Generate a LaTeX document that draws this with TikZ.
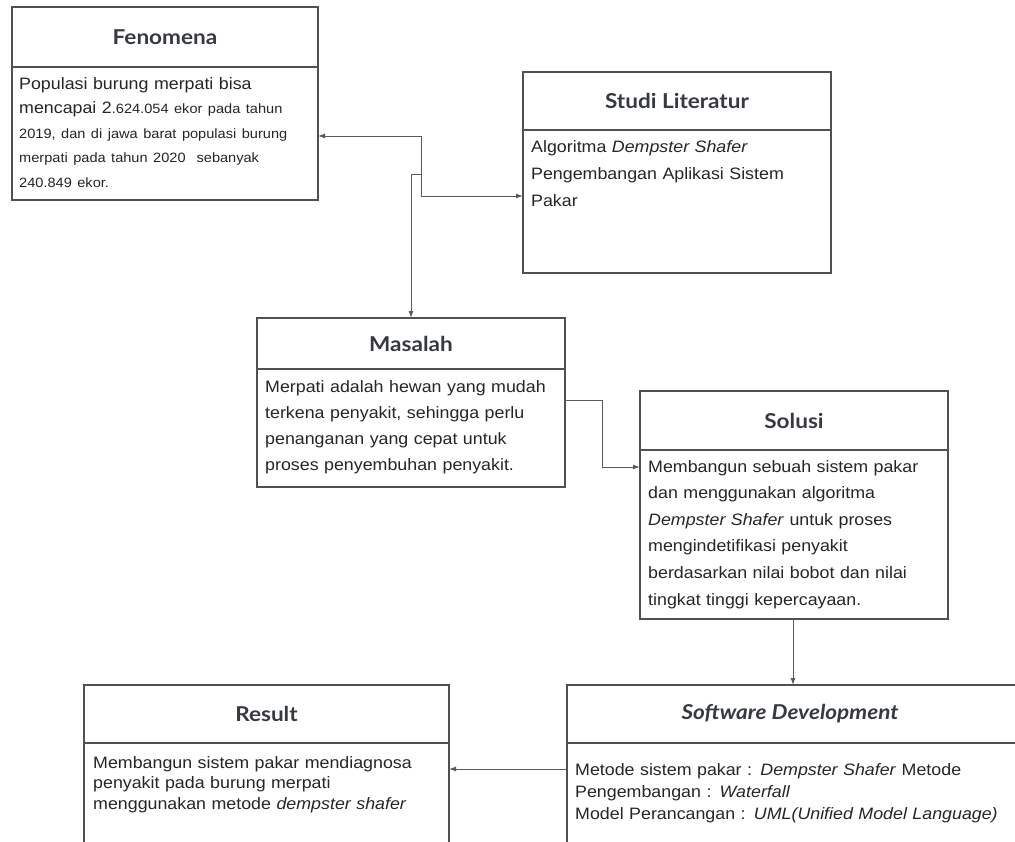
\documentclass[tikz,border=0pt]{standalone}
\usepackage{fontspec}
\setmainfont{Liberation Sans}[FakeStretch=1.08]
\newfontfamily\titlefont{Lato}[FakeStretch=1.1]
\usetikzlibrary{arrows.meta,calc}
\definecolor{boxline}{HTML}{505050}
\definecolor{titlecol}{HTML}{363A40}
\definecolor{bodycol}{HTML}{262626}
\definecolor{conncol}{HTML}{5A5A5A}
\tikzset{
  boxpart/.style={draw=boxline, line width=1.5pt, fill=white, rectangle, inner sep=0pt, outer sep=0pt, anchor=north west},
  titletxt/.style={font=\titlefont\bfseries\fontsize{20.5}{24}\selectfont, text=titlecol, inner sep=0pt},
  bodytxt/.style={inner sep=0pt, anchor=base west, text width=440pt, align=left, text=bodycol},
  conn/.style={draw=conncol, line width=1pt},
  tip/.style={-{Latex[length=7pt,width=5pt]}}
}
\begin{document}
\begin{tikzpicture}[x=1pt,y=-1pt]
\useasboundingbox (0,0) rectangle (1015,841);
\fill[white] (0,0) rectangle (1015,841);
\clip (0,0) rectangle (1015,841);

% Fenomena
\node[boxpart, minimum width=306pt, minimum height=60pt] (fenH) at (12,7) {};
\node[boxpart, minimum width=306pt, minimum height=133pt] (fenB) at (fenH.south west) {};
\node[titletxt] (fenT) at (fenH.center) {Fenomena};
\node[bodytxt, font={\fontsize{16.5}{24.5}\selectfont}] (fenX) at (19,89) {Populasi burung merpati bisa\\
mencapai 2{\fontsize{13.5}{24.5}\selectfont.624.054 ekor pada tahun}\\
{\fontsize{13.5}{24.5}\selectfont 2019, dan di jawa barat populasi burung}\\
{\fontsize{13.5}{24.5}\selectfont merpati pada tahun 2020~ sebanyak}\\
{\fontsize{13.5}{24.5}\selectfont 240.849 ekor.}};

% Studi Literatur
\node[boxpart, minimum width=308pt, minimum height=58pt] (stuH) at (523,72) {};
\node[boxpart, minimum width=308pt, minimum height=143pt] (stuB) at (stuH.south west) {};
\node[titletxt] (stuT) at (stuH.center) {Studi Literatur};
\node[bodytxt, font={\fontsize{16.5}{27}\selectfont}] (stuX) at (531,152) {Algoritma \textit{Dempster Shafer}\\
Pengembangan Aplikasi Sistem\\
Pakar};

% Masalah
\node[boxpart, minimum width=308pt, minimum height=51pt] (masH) at (257,318) {};
\node[boxpart, minimum width=308pt, minimum height=118pt] (masB) at (masH.south west) {};
\node[titletxt] (masT) at (masH.center) {Masalah};
\node[bodytxt, font={\fontsize{16.5}{26}\selectfont}] (masX) at (265,392) {Merpati adalah hewan yang mudah\\
terkena penyakit, sehingga perlu\\
penanganan yang cepat untuk\\
proses penyembuhan penyakit.};

% Solusi
\node[boxpart, minimum width=308pt, minimum height=59pt] (solH) at (640,391) {};
\node[boxpart, minimum width=308pt, minimum height=169pt] (solB) at (solH.south west) {};
\node[titletxt] (solT) at (solH.center) {Solusi};
\node[bodytxt, font={\fontsize{16.5}{26.6}\selectfont}] (solX) at (648,472) {Membangun sebuah sistem pakar\\
dan menggunakan algoritma\\
\textit{Dempster Shafer} untuk proses\\
mengindetifikasi penyakit\\
berdasarkan nilai bobot dan nilai\\
tingkat tinggi kepercayaan.};

% Result
\node[boxpart, minimum width=365pt, minimum height=58pt] (resH) at (84,685) {};
\node[boxpart, minimum width=365pt, minimum height=130pt] (resB) at (resH.south west) {};
\node[titletxt] (resT) at (resH.center) {Result};
\node[bodytxt, font={\fontsize{16.5}{20.5}\selectfont}] (resX) at (93,768) {Membangun sistem pakar mendiagnosa\\
penyakit pada burung merpati\\
menggunakan metode \textit{dempster shafer}};

% Software Development
\node[boxpart, minimum width=480pt, minimum height=58pt] (sdH) at (567,685) {};
\node[boxpart, minimum width=480pt, minimum height=130pt] (sdB) at (sdH.south west) {};
\node[titletxt] (sdT) at (790,714) {\textit{Software Development}};
\node[bodytxt, font={\fontsize{16.5}{22}\selectfont}] (sdX) at (575,775) {Metode sistem pakar : \textit{Dempster Shafer} Metode\\
Pengembangan : \textit{Waterfall}\\
Model Perancangan : \textit{UML(Unified Model Language)}};

% connectors
\coordinate (j1) at (421,136);
\coordinate (j2) at (421,196);
\coordinate (j3) at (421,174);
\coordinate (j4) at (411,174);
\draw[conn, {Latex[length=7pt,width=5pt]}-{Latex[length=7pt,width=5pt]}] (j1 -| fenB.east) -- (j1) -- (j2) -- (j2 -| stuB.west);
\draw[conn, tip] (j3) -- (j4) -- (j4 |- masH.north);

\coordinate (m1) at (602,400);
\coordinate (m2) at (602,467);
\draw[conn, tip] (m1 -| masB.east) -- (m1) -- (m2) -- (m2 -| solB.west);

\coordinate (s1) at (793,619);
\draw[conn, tip] (s1 |- solB.south) -- (s1 |- sdH.north);

\coordinate (r1) at (500,769);
\draw[conn, tip] (r1 -| sdB.west) -- (r1 -| resB.east);
\end{tikzpicture}
\end{document}
